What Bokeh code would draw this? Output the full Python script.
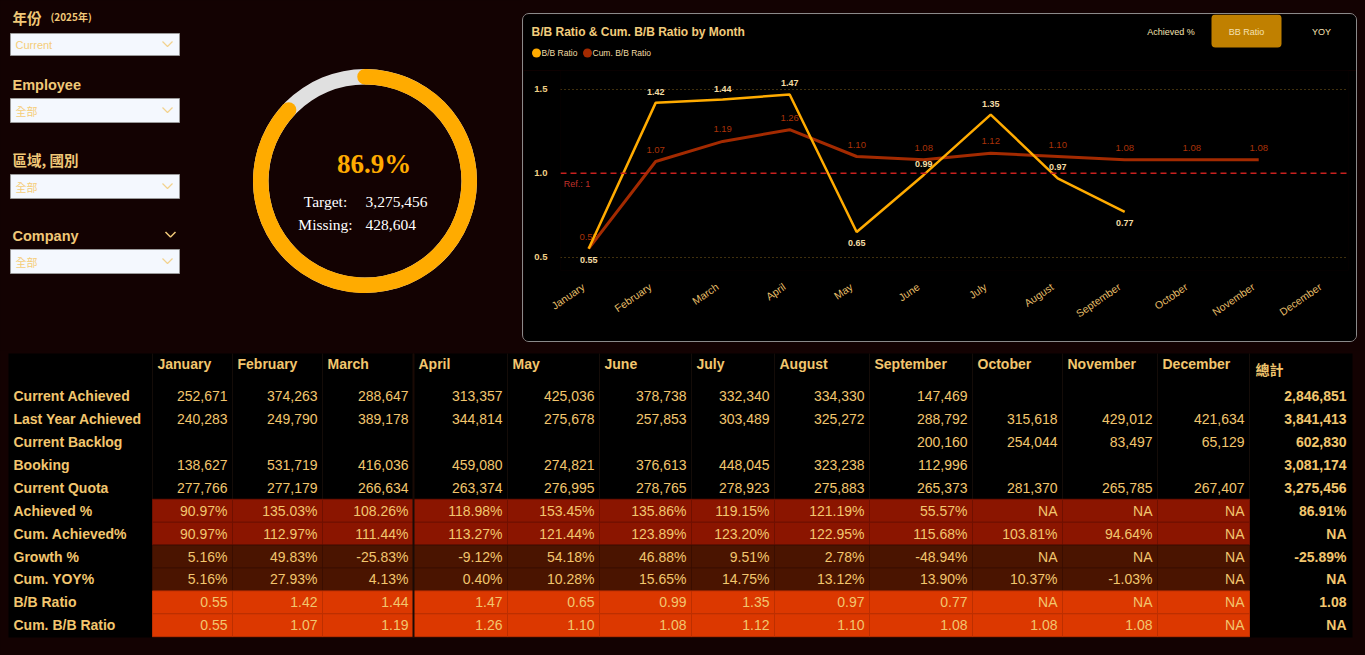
import math
import re
from bokeh.plotting import figure
from bokeh.models import Range1d, FixedTicker, PrintfTickFormatter, Span, Spacer
from bokeh.layouts import row, column
from bokeh.core.properties import value
from bokeh.embed import file_html
from bokeh.resources import INLINE

# ---------------- data ----------------
year_note = "(2025年)"
filter_titles = ["年份", "Employee", "區域, 國別", "Company"]
filter_values = ["Current", "全部", "全部", "全部"]

months = ["January", "February", "March", "April", "May", "June", "July",
          "August", "September", "October", "November", "December"]
series_names = ["B/B Ratio", "Cum. B/B Ratio"]
bb_ratio = [0.55, 1.42, 1.44, 1.47, 0.65, 0.99, 1.35, 0.97, 0.77, None, None, None]
cum_bb_ratio = [0.55, 1.07, 1.19, 1.26, 1.10, 1.08, 1.12, 1.10, 1.08, 1.08, 1.08, None]
ref_value = 1.0
ref_label = "Ref.: 1"
y_ticks = [0.5, 1.0, 1.5]
chart_title = "B/B Ratio & Cum. B/B Ratio by Month"
toggle_buttons = ["Achieved %", "BB Ratio", "YOY"]
active_button = "BB Ratio"

target_total = 3275456
achieved_total = 2846851
missing_total = 428604

row_labels = ["Current Achieved", "Last Year Achieved", "Current Backlog", "Booking",
              "Current Quota", "Achieved %", "Cum. Achieved%", "Growth %", "Cum. YOY%",
              "B/B Ratio", "Cum. B/B Ratio"]
current_achieved = [252671, 374263, 288647, 313357, 425036, 378738, 332340, 334330, 147469, None, None, None]
last_year_achieved = [240283, 249790, 389178, 344814, 275678, 257853, 303489, 325272, 288792, 315618, 429012, 421634]
current_backlog = [None, None, None, None, None, None, None, None, 200160, 254044, 83497, 65129]
booking = [138627, 531719, 416036, 459080, 274821, 376613, 448045, 323238, 112996, None, None, None]
current_quota = [277766, 277179, 266634, 263374, 276995, 278765, 278923, 275883, 265373, 281370, 265785, 267407]
achieved_pct = [90.97, 135.03, 108.26, 118.98, 153.45, 135.86, 119.15, 121.19, 55.57, None, None, None]
cum_achieved_pct = [90.97, 112.97, 111.44, 113.27, 121.44, 123.89, 123.20, 122.95, 115.68, 103.81, 94.64, None]
growth_pct = [5.16, 49.83, -25.83, -9.12, 54.18, 46.88, 9.51, 2.78, -48.94, None, None, None]
cum_yoy_pct = [5.16, 27.93, 4.13, 0.40, 10.28, 15.65, 14.75, 13.12, 13.90, 10.37, -1.03, None]
total_header = "總計"
row_totals = [2846851, 3841413, 602830, 3081174, 3275456, 86.91, None, -25.89, None, 1.08, None]

# ---------------- styles ----------------
BG = "#130202"
GOLD = "#f2c66e"
LIGHT = "#f3dca5"
ORANGE = "#ffab00"
CUM = "#a32a00"
SANS = value("Liberation Sans")
CJK = value("Noto Sans CJK TC")
SERIF = value("Liberation Serif")


def blank_fig(w, h, xr, yr, bg):
    p = figure(width=w, height=h, x_range=Range1d(*xr), y_range=Range1d(*yr),
               output_backend="svg", toolbar_location=None, x_axis_type=None, y_axis_type=None,
               min_border=0, background_fill_color=bg, border_fill_color=bg,
               outline_line_color=None)
    p.grid.visible = False
    p.frame_align = False
    return p


# ---------------- left panel: filters + gauge ----------------
L = blank_fig(522, 350, (0, 522), (350, 0), BG)
label_y = [17, 84, 159, 235]
box_top = [33, 98, 174, 249]
box_bot = [55, 122, 198, 273]
for i, (t, v) in enumerate(zip(filter_titles, filter_values)):
    font = CJK if any(ord(c) > 255 for c in t) else SANS
    L.text(x=[12], y=[label_y[i]], text=[t], text_font=font, text_font_size="14.5px",
           text_font_style="bold", text_color="#f0c878", text_baseline="middle", text_align="left")
    L.quad(left=[10], right=[179], top=[box_top[i]], bottom=[box_bot[i]],
           fill_color="#f4f8fe", line_color="#9a9a9a", line_width=1)
    cy = (box_top[i] + box_bot[i]) / 2
    vfont = CJK if any(ord(c) > 255 for c in v) else SANS
    L.text(x=[15], y=[cy + 0.5], text=[v], text_font=vfont, text_font_size="11px",
           text_color="#f5cd78", text_baseline="middle", text_align="left")
    L.line(x=[162, 167, 172], y=[cy - 3, cy + 2, cy - 3], line_color="#f2d28e", line_width=1.2)
L.text(x=[50], y=[16], text=[year_note], text_font=CJK, text_font_size="10px",
       text_font_style="bold", text_color="#f0c878", text_baseline="middle", text_align="left")
L.line(x=[165, 170, 175], y=[231.5, 236.5, 231.5], line_color="#f0c878", line_width=1.5)

# gauge
gcx, gcy = 364.5, 180.5
r_out, r_in = 112, 96.5
frac = achieved_total / target_total
sweep = 2 * math.pi * frac
top_ang = math.pi / 2
L.annulus(x=[gcx], y=[gcy], inner_radius=r_in, outer_radius=r_out,
          fill_color="#e0e0e0", line_color=None)
L.annular_wedge(x=[gcx], y=[gcy], inner_radius=r_in, outer_radius=r_out,
                start_angle=top_ang - sweep, end_angle=top_ang, direction="anticlock",
                fill_color=ORANGE, line_color=None)
rm = (r_out + r_in) / 2
cap_x = [gcx + rm * math.cos(a) for a in (top_ang, top_ang - sweep)]
cap_y = [gcy - rm * math.sin(a) for a in (top_ang, top_ang - sweep)]
L.circle(x=cap_x, y=cap_y, radius=(r_out - r_in) / 2, fill_color=ORANGE, line_color=None)
L.text(x=[373.5], y=[163], text=[f"{achieved_total / target_total * 100:.1f}%"], text_font=SERIF,
       text_font_size="27px", text_font_style="bold", text_color=ORANGE,
       text_align="center", text_baseline="middle")
L.text(x=[325, 325], y=[201, 224], text=["Target:", "Missing:"], text_font=SERIF,
       text_font_size="15.5px", text_color="white", text_align="center", text_baseline="middle")
L.text(x=[365, 365], y=[201, 224], text=[f"{target_total:,}", f"{missing_total:,}"], text_font=SERIF,
       text_font_size="15.5px", text_color="white", text_align="left", text_baseline="middle")

# ---------------- chart header (inside 1px bordered box) ----------------
H = blank_fig(833, 56, (523, 1356), (70, 14), "black")
H.text(x=[531], y=[31], text=[chart_title], text_font=SANS, text_font_size="12px",
       text_font_style="bold", text_color="#f2cc7c", text_baseline="middle", text_align="left")
leg_x = [536, 587]
H.scatter(x=leg_x, y=[52.5, 52.5], size=9, marker="circle", fill_color=[ORANGE, CUM], line_color=None)
H.text(x=[x + 5 for x in leg_x], y=[52.5, 52.5], text=series_names, text_font=SANS,
       text_font_size="8.5px", text_color=LIGHT, text_baseline="middle", text_align="left")
btn_x = [1170.5, 1246, 1321]
for bx, bt in zip(btn_x, toggle_buttons):
    if bt == active_button:
        H.quad(left=[bx - 35], right=[bx + 35], top=[14], bottom=[47], fill_color="#c08000",
               line_color=None, border_radius=4)
H.text(x=btn_x, y=[31, 31, 31], text=toggle_buttons, text_font=SANS, text_font_size="9px",
       text_color="#f5e2b2", text_align="center", text_baseline="middle")

# ---------------- chart main ----------------
xs = list(range(len(months)))
nan = float("nan")
C = figure(width=833, height=271, x_range=Range1d(-0.42, 11.34), y_range=Range1d(0.42, 1.613),
           output_backend="svg", toolbar_location=None, min_border_left=37, min_border_right=8,
           min_border_top=0, min_border_bottom=71, background_fill_color="black",
           border_fill_color="black", outline_line_color=None)
C.frame_align = False
C.xgrid.visible = False
C.ygrid.ticker = FixedTicker(ticks=[y_ticks[0], y_ticks[-1]])
C.ygrid.grid_line_color = "#80601c"
C.ygrid.grid_line_dash = "1 3"
C.ygrid.grid_line_width = 1
# rotated month labels end just left of each month's point
label_shift = 0.08
tick_pos = [i - label_shift for i in xs]
C.xaxis.ticker = FixedTicker(ticks=tick_pos)
C.xaxis.major_label_overrides = {t: m for t, m in zip(tick_pos, months)}
C.xaxis.major_label_orientation = 0.6
C.yaxis.ticker = FixedTicker(ticks=y_ticks)
C.yaxis.formatter = PrintfTickFormatter(format="%.1f")
for ax in (C.xaxis, C.yaxis):
    ax.axis_line_color = None
    ax.major_tick_line_color = None
    ax.minor_tick_line_color = None
    ax.major_label_text_font = "Liberation Sans"
C.xaxis.major_label_text_color = "#e6be68"
C.xaxis.major_label_text_font_size = "10.5px"
C.xaxis.major_label_standoff = 9
C.yaxis.major_label_text_color = "#efcf86"
C.yaxis.major_label_text_font_size = "9.5px"
C.yaxis.major_label_text_font_style = "bold"
C.yaxis.major_label_standoff = 7

C.add_layout(Span(location=ref_value, dimension="width", line_color="#c8201e",
                  line_dash="6 4", line_width=1.5))
C.text(x=[-0.37], y=[ref_value], text=[ref_label], text_font=SANS, text_font_size="9px",
       text_color="#c0302a", text_align="left", text_baseline="middle", y_offset=11)

cum_y = [nan if v is None else v for v in cum_bb_ratio]
bb_y = [nan if v is None else v for v in bb_ratio]
C.line(x=xs, y=cum_y, line_color=CUM, line_width=3)
cum_idx = [i for i, v in enumerate(cum_bb_ratio) if v is not None]
C.text(x=cum_idx, y=[cum_bb_ratio[i] for i in cum_idx],
       text=[f"{cum_bb_ratio[i]:.2f}" for i in cum_idx], text_font=SANS, text_font_size="9.5px",
       text_color="#a83208", text_align="center", text_baseline="middle", y_offset=-12)
C.line(x=xs, y=bb_y, line_color=ORANGE, line_width=2.5)


def is_low(vals, i):
    nb = [vals[j] for j in (i - 1, i + 1) if 0 <= j < len(vals) and vals[j] is not None]
    return all(vals[i] < v for v in nb)


bb_idx = [i for i, v in enumerate(bb_ratio) if v is not None]
C.text(x=bb_idx, y=[bb_ratio[i] for i in bb_idx], text=[f"{bb_ratio[i]:.2f}" for i in bb_idx],
       text_font=SANS, text_font_size="9px", text_font_style="bold", text_color=LIGHT,
       text_align="center", text_baseline="middle",
       y_offset=[11 if is_low(bb_ratio, i) else -11 for i in bb_idx])

# ---------------- table ----------------
T = blank_fig(1365, 305, (0, 1365), (655, 350), BG)
tbl_l, tbl_r, tbl_t, tbl_b = 8, 1352, 353, 637
T.quad(left=[tbl_l], right=[tbl_r], top=[tbl_t], bottom=[tbl_b], fill_color="black", line_color=None)
col_edges = [152, 232, 322, 413, 507, 599, 691, 774, 869, 972, 1062, 1157, 1249, 1352]
row_h = 22.9
row_top0 = 384.3
band_fill = {5: "#8b1500", 6: "#8b1500", 7: "#4a1400", 8: "#4a1400", 9: "#dc3800", 10: "#dc3800"}
band_line = {5: "#701000", 6: "#701000", 7: "#3a0e00", 8: "#3a0e00", 9: "#bd2f00", 10: "#bd2f00"}
T.segment(x0=col_edges[:-1], y0=[tbl_t] * 13, x1=col_edges[:-1], y1=[tbl_b] * 13,
          line_color="#140c08", line_width=1)
ql, qr, qt, qb, qf, qc = [], [], [], [], [], []
for r in band_fill:
    for c in range(12):
        ql.append(col_edges[c]); qr.append(col_edges[c + 1])
        qt.append(row_top0 + row_h * r); qb.append(row_top0 + row_h * (r + 1))
        qf.append(band_fill[r]); qc.append(band_line[r])
T.quad(left=ql, right=qr, top=qt, bottom=qb, fill_color=qf, line_color=qc, line_width=1)
T.segment(x0=[col_edges[3]], y0=[tbl_t], x1=[col_edges[3]], y1=[tbl_b], line_color="#1a0a05",
          line_width=2)

T.text(x=[e + 5 for e in col_edges[:12]], y=[363.5] * 12, text=months, text_font=SANS,
       text_font_size="14px", text_font_style="bold", text_color=GOLD, text_align="left",
       text_baseline="middle")
T.text(x=[col_edges[12] + 6], y=[368.5], text=[total_header], text_font=CJK, text_font_size="14px",
       text_font_style="bold", text_color=GOLD, text_align="left", text_baseline="middle")

table_rows = [current_achieved, last_year_achieved, current_backlog, booking, current_quota,
              achieved_pct, cum_achieved_pct, growth_pct, cum_yoy_pct, bb_ratio, cum_bb_ratio]
kinds = ["int"] * 5 + ["pct"] * 4 + ["ratio"] * 2


def fmt(v, kind):
    if kind == "int":
        return "" if v is None else f"{v:,}"
    if v is None:
        return "NA"
    return f"{v:.2f}%" if kind == "pct" else f"{v:.2f}"


row_cy = [row_top0 + row_h * (r + 0.5) for r in range(len(row_labels))]
T.text(x=[13] * len(row_labels), y=row_cy, text=row_labels, text_font=SANS, text_font_size="14px",
       text_font_style="bold", text_color=GOLD, text_align="left", text_baseline="middle")
vx, vy, vt = [], [], []
for r, (vals, kind) in enumerate(zip(table_rows, kinds)):
    for c, v in enumerate(vals):
        vx.append(col_edges[c + 1] - 5); vy.append(row_cy[r]); vt.append(fmt(v, kind))
T.text(x=vx, y=vy, text=vt, text_font=SANS, text_font_size="14px", text_color=GOLD,
       text_align="right", text_baseline="middle")
T.text(x=[tbl_r - 6] * len(row_totals), y=row_cy,
       text=[fmt(v, k) for v, k in zip(row_totals, kinds)], text_font=SANS, text_font_size="14px",
       text_font_style="bold", text_color=GOLD, text_align="right", text_baseline="middle")

# ---------------- layout ----------------
chart_box = column(H, C, styles={"border": "1px solid #8a8a8a", "border-radius": "7px",
                                 "overflow": "hidden"})
right = column(Spacer(width=835, height=13), chart_box, Spacer(width=835, height=8))
top = row(L, right, Spacer(width=8, height=350))
root = column(top, T, styles={"background-color": BG})

html = file_html(root, INLINE, title="B/B Ratio Dashboard")
html = re.sub(r"<body>", f'<body style="margin:0;background:{BG};">', html, count=1)
open("out.html", "w", encoding="utf-8").write(html)
